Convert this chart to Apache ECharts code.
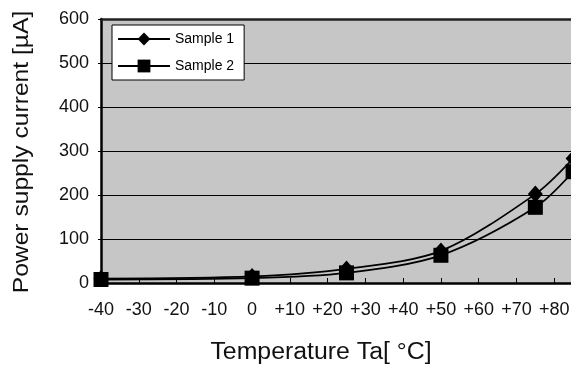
<!DOCTYPE html>
<html><head><meta charset="utf-8">
<script src="https://cdn.jsdelivr.net/npm/echarts@6/dist/echarts.min.js"></script>
<style>html,body{margin:0;padding:0;background:#fff}#c{width:571px;height:377px}</style>
</head><body><div id="c"></div>
<script>
const temps = [-40, 0, 25, 50, 75, 85];
const sample1 = [10, 15, 32, 73, 202, 283];
const sample2 = [8, 11, 23, 63, 172, 253];
const seriesNames = ['Sample 1', 'Sample 2'];
const xTitle = 'Temperature Ta[ °C]';
const yTitle = 'Power supply current [µA]';

const chart = echarts.init(document.getElementById('c'));
const font = 'Liberation Sans, Arial, sans-serif';
chart.setOption({
  animation: false,
  backgroundColor: '#fff',
  grid: {left: 101, top: 19, width: 491, height: 264, outerBoundsMode: 'none', containLabel: false,
         show: true, backgroundColor: '#c6c6c6', borderWidth: 0},
  xAxis: [{
    type: 'value', min: -40, max: 90, interval: 10,
    axisLine: {onZero: false, lineStyle: {color: '#000', width: 2.5}},
    axisTick: {inside: true, length: 5, lineStyle: {color: '#000', width: 1}},
    splitLine: {show: false},
    axisLabel: {color: '#111', fontFamily: font, fontSize: 18, margin: 18, hideOverlap: false,
      formatter: v => v > 85 ? '' : (v > 0 ? '+' + v : String(v))}
  }, {
    type: 'value', position: 'top', min: -40, max: 90, interval: 10,
    axisLine: {onZero: false, lineStyle: {color: '#222', width: 2.5}},
    axisTick: {show: false}, axisLabel: {show: false}, splitLine: {show: false}
  }],
  yAxis: {
    type: 'value', min: 0, max: 600, interval: 100,
    axisLine: {show: true, onZero: false, lineStyle: {color: '#000', width: 2.5}},
    axisTick: {show: true, length: 3, lineStyle: {color: '#000'}},
    splitLine: {lineStyle: {color: '#000', width: 1}},
    axisLabel: {color: '#111', fontFamily: font, fontSize: 18, margin: 12}
  },
  legend: {
    left: 112, top: 25, orient: 'vertical',
    backgroundColor: '#fff', borderColor: '#000', borderWidth: 1,
    padding: [7, 10, 7, 5], itemGap: 13, itemWidth: 52, itemHeight: 16,
    textStyle: {fontFamily: font, fontSize: 14, color: '#000'},
    data: seriesNames
  },
  graphic: [
    {type: 'text', x: 321, y: 353, scaleX: 1.08, style: {text: xTitle, font: '23px Liberation Sans, Arial, sans-serif', fill: '#111', align: 'center', verticalAlign: 'middle'}},
    {type: 'text', x: 22, y: 152, rotation: Math.PI / 2, scaleX: 1.12, style: {text: yTitle, font: '22px Liberation Sans, Arial, sans-serif', fill: '#111', align: 'center', verticalAlign: 'middle'}}
  ],
  series: [
    {name: seriesNames[0], type: 'line', smooth: 0.3, data: temps.map((t, i) => [t, sample1[i]]),
     symbol: 'diamond', symbolSize: [15, 17], itemStyle: {color: '#000'}, lineStyle: {color: '#000', width: 1.8}, z: 3},
    {name: seriesNames[1], type: 'line', smooth: 0.3, data: temps.map((t, i) => [t, sample2[i]]),
     symbol: 'rect', symbolSize: 15, itemStyle: {color: '#000'}, lineStyle: {color: '#000', width: 1.8}, z: 2}
  ]
});
</script></body></html>
